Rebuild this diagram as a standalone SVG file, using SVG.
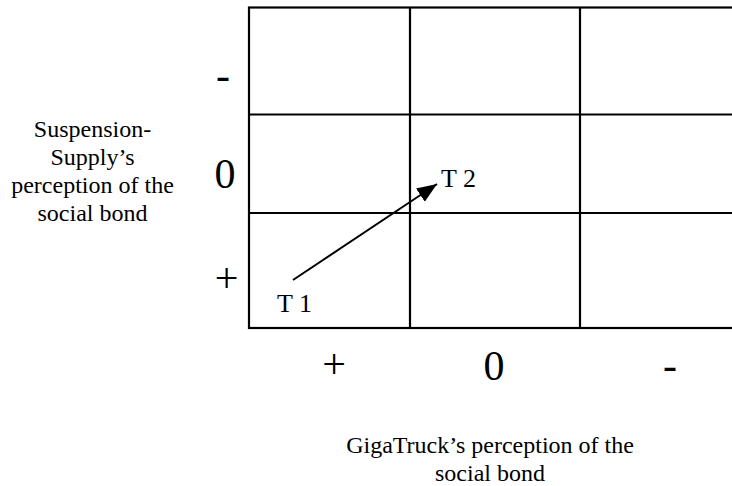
<svg xmlns="http://www.w3.org/2000/svg" width="732" height="486" viewBox="0 0 732 486">
  <style>
    text { font-family: "Liberation Serif", "Times New Roman", serif; fill: #000; }
    .lbl { font-size: 24px; text-anchor: middle; }
    .sym { font-size: 42px; text-anchor: middle; }
    .t { font-size: 26px; }
    .grid { fill: none; stroke: #000; stroke-width: 2.2; }
    .conn { stroke: #000; stroke-width: 2; fill: none; }
  </style>
  <defs>
    <marker id="arrow" markerUnits="userSpaceOnUse" markerWidth="22" markerHeight="18" refX="20" refY="8" orient="auto" viewBox="0 0 22 18">
      <path d="M0,0 L20,8 L0,16 z" fill="#000"/>
    </marker>
  </defs>
  <rect width="732" height="486" fill="#fff"/>

  <g id="grid">
    <rect class="grid" x="249" y="7.5" width="520" height="320.5"/>
    <line class="grid" x1="249" y1="114.5" x2="769" y2="114.5"/>
    <line class="grid" x1="249" y1="213" x2="769" y2="213"/>
    <line class="grid" x1="410" y1="7.5" x2="410" y2="328"/>
    <line class="grid" x1="580" y1="7.5" x2="580" y2="328"/>
  </g>

  <g id="axis-y-label">
    <text class="lbl" x="92.5" y="137">Suspension-</text>
    <text class="lbl" x="92.5" y="165">Supply’s</text>
    <text class="lbl" x="92.5" y="193">perception of the</text>
    <text class="lbl" x="92.5" y="221">social bond</text>
  </g>
  <g id="axis-y-values">
    <text class="sym" x="223" y="89">-</text>
    <text class="sym" x="225" y="188">0</text>
    <text class="sym" x="226.5" y="292">+</text>
  </g>
  <g id="axis-x-values">
    <text class="sym" x="334" y="378">+</text>
    <text class="sym" x="494" y="380">0</text>
    <text class="sym" x="670" y="379">-</text>
  </g>
  <g id="axis-x-label">
    <text class="lbl" x="490" y="453">GigaTruck’s perception of the</text>
    <text class="lbl" x="490" y="481">social bond</text>
  </g>

  <g id="node-t1">
    <text class="t" x="277" y="311.5">T 1</text>
  </g>
  <g id="node-t2">
    <text class="t" x="441" y="186.5">T 2</text>
  </g>

  <g id="connectors">
    <line class="conn" x1="293" y1="280" x2="437" y2="184" marker-end="url(#arrow)"/>
  </g>
</svg>
